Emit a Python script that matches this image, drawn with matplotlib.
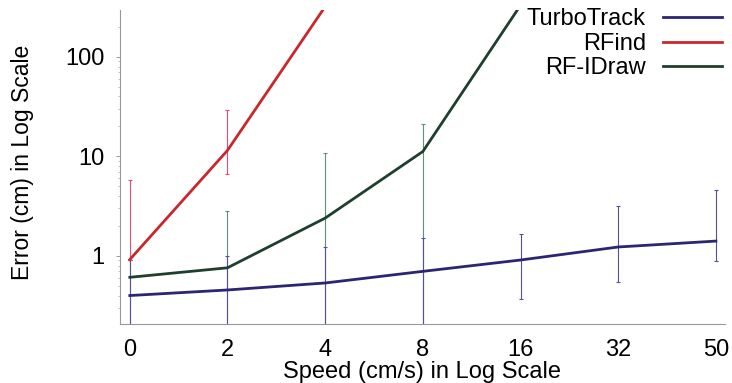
import matplotlib
matplotlib.use("Agg")
import matplotlib.pyplot as plt
from matplotlib.ticker import LogLocator, NullFormatter, FixedLocator

plt.rcParams['font.family'] = ['Liberation Sans', 'DejaVu Sans']

# speeds on the x axis (equally spaced categories)
speeds = ["0", "2", "4", "8", "16", "32", "50"]

# median error (cm) per series
turbo = [0.40, 0.455, 0.535, 0.70, 0.91, 1.23, 1.41]
turbo_lo = [0.10, 0.10, 0.10, 0.10, 0.37, 0.55, 0.89]
turbo_hi = [0.90, 1.00, 1.23, 1.50, 1.66, 3.2, 4.6]

rfind = [0.92, 11.5, 320]
rfind_lo = [0.92, 6.6, 320]
rfind_hi = [5.8, 29.5, 320]

idraw = [0.61, 0.76, 2.4, 11.2, 330]
idraw_lo = [0.10, 0.10, 0.10, 0.10, 330]
idraw_hi = [0.90, 2.8, 10.8, 21.0, 330]

c_turbo = "#2b2572"
c_rfind = "#c8282c"
c_idraw = "#1e3f2e"

fig = plt.figure(figsize=(7.32, 3.83), dpi=100)
ax = fig.add_axes([0.164, 0.154, 0.826, 0.820])


def bars(vals, lo, hi, color):
    xs = list(range(len(vals)))
    ax.errorbar(xs, vals, yerr=[[v - l for v, l in zip(vals, lo)],
                                [h - v for v, h in zip(vals, hi)]],
                fmt="none", ecolor=color, elinewidth=0.8, capsize=1.2,
                capthick=0.8, zorder=2)


bars(idraw, idraw_lo, idraw_hi, "#5f8f80")
bars(turbo, turbo_lo, turbo_hi, "#55509a")
bars(rfind, rfind_lo, rfind_hi, "#e0506e")

ax.plot(range(len(turbo)), turbo, color=c_turbo, lw=2.0, label="TurboTrack", zorder=3)
ax.plot(range(len(rfind)), rfind, color=c_rfind, lw=2.0, label="RFind", zorder=3)
ax.plot(range(len(idraw)), idraw, color=c_idraw, lw=2.0, label="RF-IDraw", zorder=3)

ax.set_yscale("log")
ax.set_ylim(0.207, 296)
ax.set_xlim(-0.10, 6.09)

ax.xaxis.set_major_locator(FixedLocator(range(len(speeds))))
ax.set_xticklabels(speeds)
ax.tick_params(axis="x", length=0, labelsize=17, pad=11)

ax.yaxis.set_major_locator(FixedLocator([1, 10, 100]))
ax.set_yticklabels(["1", "10", "100"])
ax.yaxis.set_minor_locator(LogLocator(base=10, subs=range(2, 10)))
ax.yaxis.set_minor_formatter(NullFormatter())
ax.tick_params(axis="y", which="major", length=3, width=0.6, color="#888888",
               labelsize=17, pad=8)
ax.tick_params(axis="y", which="minor", length=1.5, width=0.5, color="#aaaaaa")

for s in ["top", "right"]:
    ax.spines[s].set_visible(False)
for s in ["left", "bottom"]:
    ax.spines[s].set_color("#999999")
    ax.spines[s].set_linewidth(0.8)

ax.set_xlabel("Speed (cm/s) in Log Scale", fontsize=17)
ax.set_ylabel("Error (cm) in Log Scale", fontsize=16.5)
ax.xaxis.set_label_coords(0.5, -0.118)
ax.yaxis.set_label_coords(-0.142, 0.516)

leg = ax.legend(loc="upper right", bbox_to_anchor=(1.012, 1.035), frameon=False,
                markerfirst=False, fontsize=17, handlelength=2.5,
                handletextpad=0.75, labelspacing=0.1, borderaxespad=0)

fig.savefig("out.png", dpi=100)
